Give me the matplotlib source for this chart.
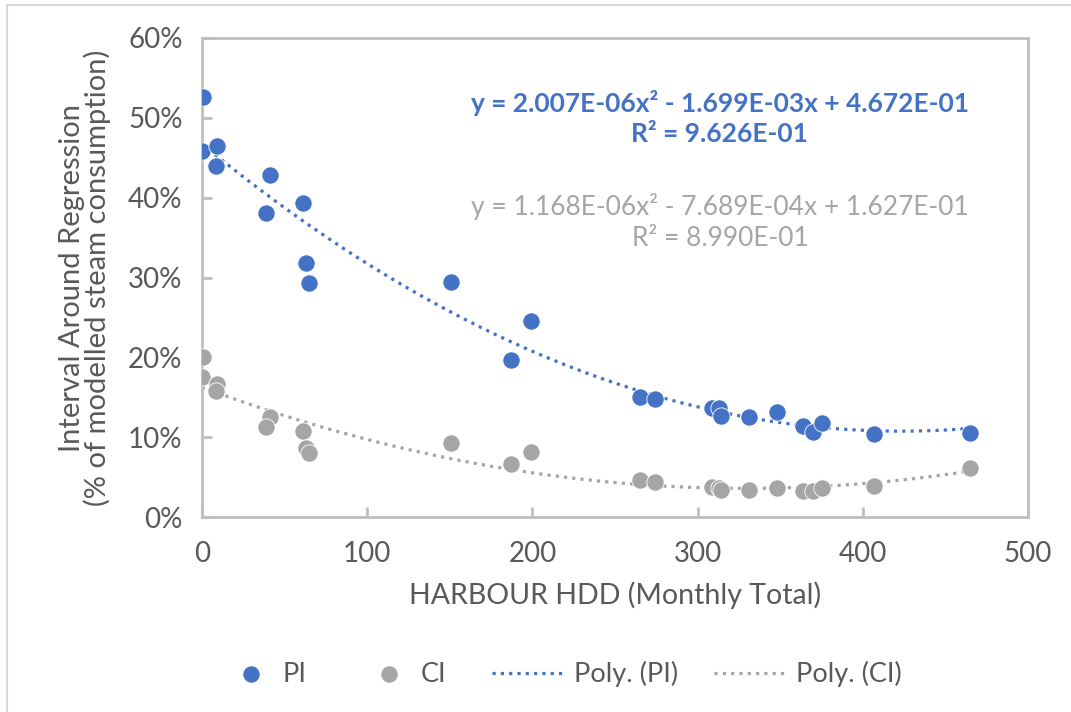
import numpy as np
import matplotlib
matplotlib.use("Agg")
import matplotlib.pyplot as plt
from matplotlib.lines import Line2D
from matplotlib.ticker import PercentFormatter

plt.rcParams['font.family'] = ['Lato', 'DejaVu Sans']

hdd = [0.6, 0, 9, 8.5, 41, 39, 61, 63, 65, 151, 187, 199, 265, 274,
       309, 313, 314, 331, 348, 364, 370, 375, 407, 465]
pi = [52.6, 45.8, 46.5, 44.0, 42.9, 38.1, 39.3, 31.8, 29.3, 29.4, 19.7, 24.6, 15.0, 14.8,
      13.6, 13.7, 12.7, 12.5, 13.1, 11.4, 10.7, 11.8, 10.4, 10.5]
ci = [20.1, 17.5, 16.7, 15.8, 12.5, 11.3, 10.8, 8.6, 8.0, 9.3, 6.6, 8.2, 4.6, 4.4,
      3.8, 3.6, 3.4, 3.4, 3.6, 3.2, 3.2, 3.6, 3.9, 6.1]

x_ticks = [0, 100, 200, 300, 400, 500]
y_ticks = [0, 10, 20, 30, 40, 50, 60]

blue = '#4472C4'
gray = '#A5A5A5'
txt = '#595959'
axc = '#BFBFBF'

W, H = 1071, 712
fig = plt.figure(figsize=(W / 100, H / 100), dpi=100)
ax = fig.add_axes([202 / W, 1 - 517 / H, (1028 - 202) / W, (517 - 38) / H])

# outer chart frame (top and left edges visible)
fig.add_artist(Line2D([7 / W, 7 / W], [1 - 712 / H, 1 - 5 / H], transform=fig.transFigure,
                      color='#D9D9D9', lw=1.5))
fig.add_artist(Line2D([7 / W, 1.0], [1 - 5 / H, 1 - 5 / H], transform=fig.transFigure,
                      color='#D9D9D9', lw=1.5))

x = np.array(hdd, dtype=float)
xs = np.linspace(x.min(), x.max(), 200)
cp = np.polyfit(x, np.array(pi) / 100, 2)
cc = np.polyfit(x, np.array(ci) / 100, 2)

h_pi = ax.scatter(hdd, pi, s=155, color=blue, edgecolors='white', linewidths=0.6, zorder=3, label='PI')
h_ci = ax.scatter(hdd, ci, s=155, color=gray, edgecolors='white', linewidths=0.6, zorder=3, label='CI')
h_ppi, = ax.plot(xs, np.polyval(cp, xs) * 100, color=blue, lw=2.3, ls=(0, (1, 1.6)), zorder=2,
                 label='Poly. (PI)')
h_pci, = ax.plot(xs, np.polyval(cc, xs) * 100, color=gray, lw=2.3, ls=(0, (1, 1.6)), zorder=2,
                 label='Poly. (CI)')

ax.set_xlim(0, 500)
ax.set_ylim(0, 60)
ax.set_xticks(x_ticks)
ax.set_yticks(y_ticks)
ax.yaxis.set_major_formatter(PercentFormatter(decimals=0))
for s in ax.spines.values():
    s.set_color(axc)
    s.set_linewidth(2)
ax.tick_params(axis='both', colors=axc, labelcolor=txt, labelsize=20, width=2, length=7,
               direction='in')
ax.tick_params(axis='y', pad=14)
ax.tick_params(axis='x', pad=17)
ax.set_xlabel('HARBOUR HDD (Monthly Total)', fontsize=20.5, color=txt, labelpad=11)
ax.set_ylabel('Interval Around Regression\n(% of modelled steam consumption)', fontsize=21,
              color=txt, labelpad=12, linespacing=0.95)

ax.text(0.627, 0.833, 'y = 2.007E-06x² - 1.699E-03x + 4.672E-01\nR² = 9.626E-01',
        transform=ax.transAxes, ha='center', va='center', fontsize=19, fontweight='bold',
        color=blue, linespacing=1.28)
ax.text(0.627, 0.616, 'y = 1.168E-06x² - 7.689E-04x + 1.627E-01\nR² = 8.990E-01',
        transform=ax.transAxes, ha='center', va='center', fontsize=19,
        color=gray, linespacing=1.28)

leg1 = fig.legend(handles=[h_pi, h_ci], loc='center', bbox_to_anchor=(339 / W, 1 - 674 / H),
                  ncol=2, frameon=False, fontsize=19.5, labelcolor=txt, columnspacing=2.37,
                  handlelength=1.4, handletextpad=0.45)
fig.legend(handles=[h_ppi, h_pci], loc='center', bbox_to_anchor=(697 / W, 1 - 674 / H),
           ncol=2, frameon=False, fontsize=19.5, labelcolor=txt, columnspacing=1.3,
           handlelength=2.6, handletextpad=0.45)

fig.savefig('out.png', dpi=100)
